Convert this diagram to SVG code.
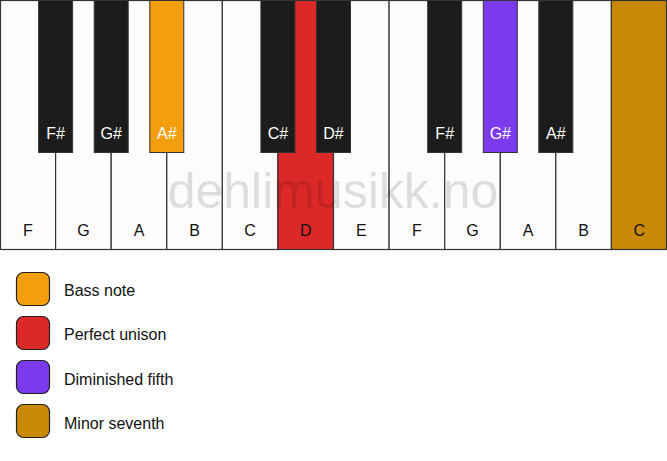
<svg xmlns="http://www.w3.org/2000/svg" width="667" height="461" viewBox="0 0 667 461">
<style>
.w{fill:#fdfcfa;stroke:#333;stroke-width:1.2}
.b{fill:#1c1c1c;stroke:#333;stroke-width:1}
.wl{font-family:"Liberation Sans",Arial,sans-serif;font-size:16px;fill:#111;text-anchor:middle}
.bl{font-family:"Liberation Sans",Arial,sans-serif;font-size:16px;fill:#fff;text-anchor:middle}
.lg{stroke:#222;stroke-width:1.2}
.lt{font-family:"Liberation Sans",Arial,sans-serif;font-size:16px;fill:#111}
</style>
<rect width="667" height="461" fill="#fff"/>
<g id="white-keys">
<g id="wF1"><rect class="w" x="0.5" y="0.5" width="55.1" height="249"/><text class="wl" x="28" y="236">F</text></g>
<g id="wG1"><rect class="w" x="55.6" y="0.5" width="55.6" height="249"/><text class="wl" x="83.4" y="236">G</text></g>
<g id="wA1"><rect class="w" x="111.2" y="0.5" width="55.6" height="249"/><text class="wl" x="139" y="236">A</text></g>
<g id="wB1"><rect class="w" x="166.8" y="0.5" width="55.6" height="249"/><text class="wl" x="194.6" y="236">B</text></g>
<g id="wC1"><rect class="w" x="222.3" y="0.5" width="55.6" height="249"/><text class="wl" x="250.1" y="236">C</text></g>
<g id="wD1"><rect class="w" x="277.9" y="0.5" width="55.6" height="249" style="fill:#dd2828"/><text class="wl" x="305.7" y="236">D</text></g>
<g id="wE1"><rect class="w" x="333.5" y="0.5" width="55.6" height="249"/><text class="wl" x="361.3" y="236">E</text></g>
<g id="wF2"><rect class="w" x="389.1" y="0.5" width="55.6" height="249"/><text class="wl" x="416.9" y="236">F</text></g>
<g id="wG2"><rect class="w" x="444.7" y="0.5" width="55.6" height="249"/><text class="wl" x="472.5" y="236">G</text></g>
<g id="wA2"><rect class="w" x="500.3" y="0.5" width="55.6" height="249"/><text class="wl" x="528.1" y="236">A</text></g>
<g id="wB2"><rect class="w" x="555.8" y="0.5" width="55.6" height="249"/><text class="wl" x="583.6" y="236">B</text></g>
<g id="wC2"><rect class="w" x="611.4" y="0.5" width="55.1" height="249" style="fill:#c98806"/><text class="wl" x="639.2" y="236">C</text></g>
</g>
<text x="333" y="208" font-family="'Liberation Sans',Arial,sans-serif" font-size="50" fill="#000" fill-opacity="0.12" text-anchor="middle">dehlimusikk.no</text>
<g id="black-keys">
<g id="bFs1"><rect class="b" x="38.6" y="0.5" width="34" height="152"/><text class="bl" x="55.6" y="139">F#</text></g>
<g id="bGs1"><rect class="b" x="94.2" y="0.5" width="34" height="152"/><text class="bl" x="111.2" y="139">G#</text></g>
<g id="bAs1"><rect class="b" x="149.8" y="0.5" width="34" height="152" style="fill:#f39e0c"/><text class="bl" x="166.8" y="139">A#</text></g>
<g id="bCs1"><rect class="b" x="260.9" y="0.5" width="34" height="152"/><text class="bl" x="277.9" y="139">C#</text></g>
<g id="bDs1"><rect class="b" x="316.5" y="0.5" width="34" height="152"/><text class="bl" x="333.5" y="139">D#</text></g>
<g id="bFs2"><rect class="b" x="427.7" y="0.5" width="34" height="152"/><text class="bl" x="444.7" y="139">F#</text></g>
<g id="bGs2"><rect class="b" x="483.3" y="0.5" width="34" height="152" style="fill:#7b3aec"/><text class="bl" x="500.3" y="139">G#</text></g>
<g id="bAs2"><rect class="b" x="538.8" y="0.5" width="34" height="152"/><text class="bl" x="555.8" y="139">A#</text></g>
</g>
<g id="legend">
<g id="lg1"><rect class="lg" x="16.5" y="272.5" width="33" height="33" rx="7" fill="#f39e0c"/><text class="lt" x="64" y="295.5">Bass note</text></g>
<g id="lg2"><rect class="lg" x="16.5" y="316.5" width="33" height="33" rx="7" fill="#dd2828"/><text class="lt" x="64" y="339.5">Perfect unison</text></g>
<g id="lg3"><rect class="lg" x="16.5" y="360.5" width="33" height="33" rx="7" fill="#7b3aec"/><text class="lt" x="64" y="384.5">Diminished fifth</text></g>
<g id="lg4"><rect class="lg" x="16.5" y="404.5" width="33" height="33" rx="7" fill="#c98806"/><text class="lt" x="64" y="428.5">Minor seventh</text></g>
</g>
</svg>
